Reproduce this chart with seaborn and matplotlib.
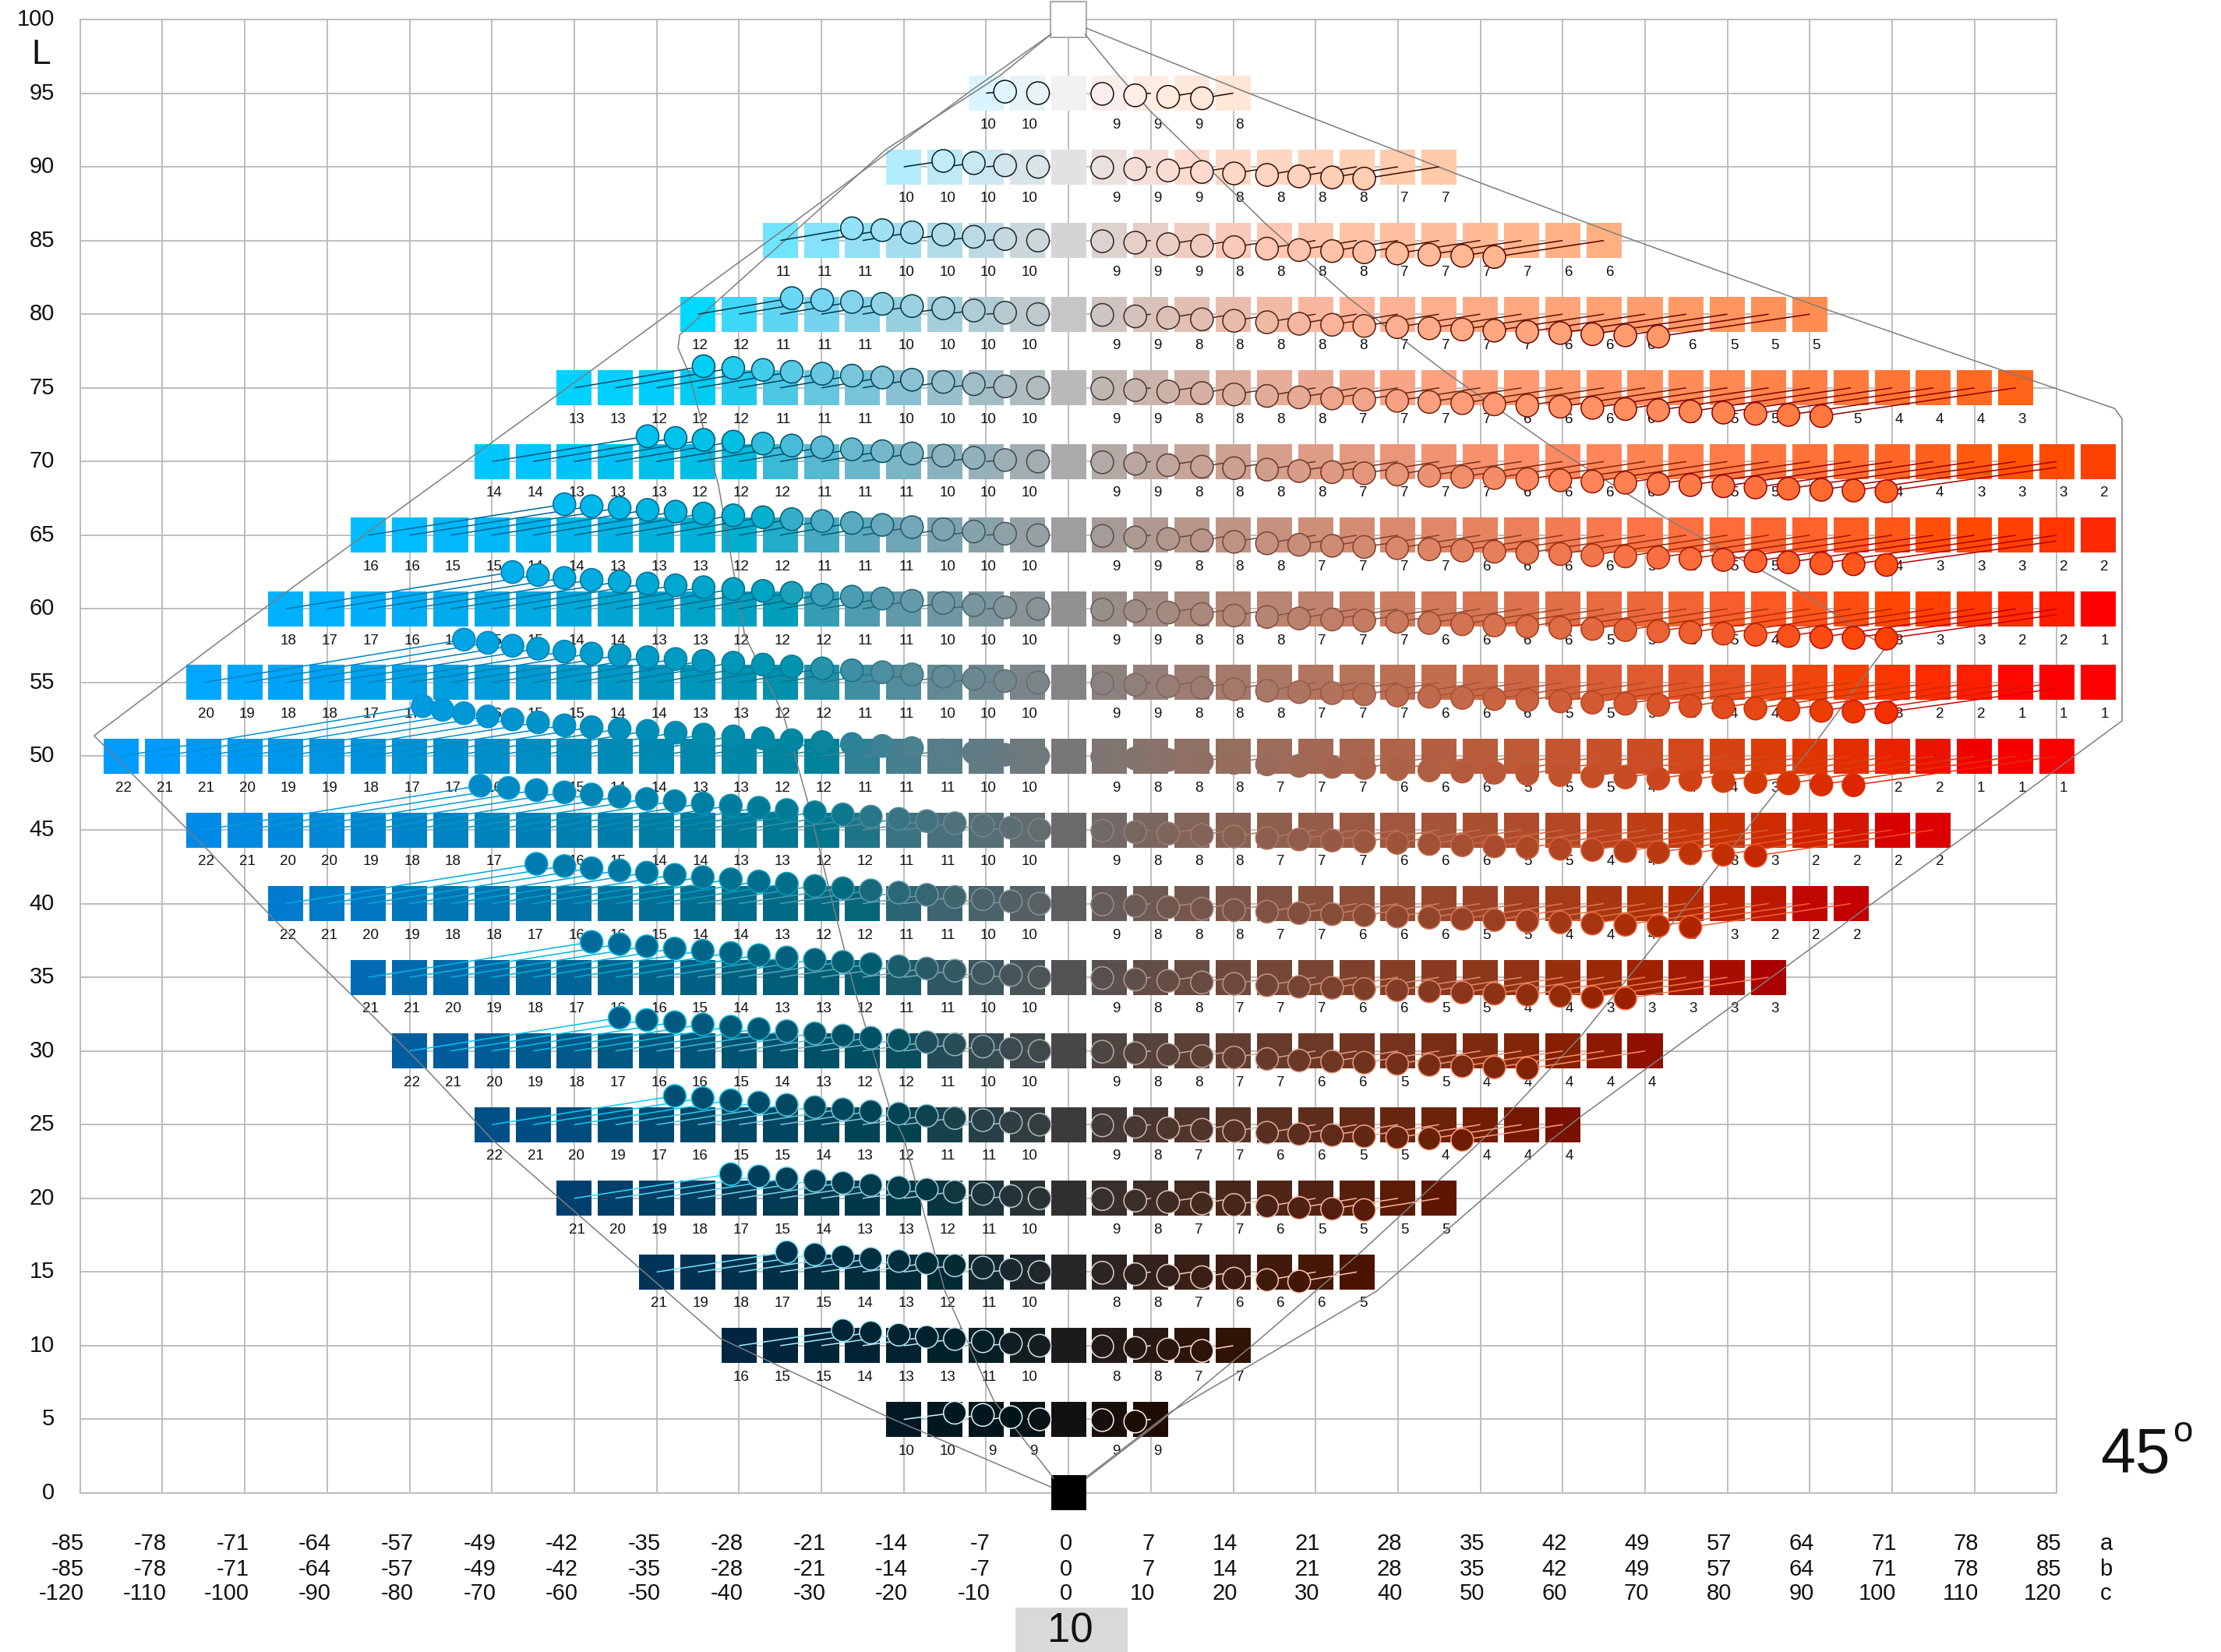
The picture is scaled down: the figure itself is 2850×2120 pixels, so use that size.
import numpy as np
import pandas as pd
import matplotlib
matplotlib.use("Agg")
import matplotlib.pyplot as plt
import seaborn as sns
from matplotlib.collections import LineCollection
from matplotlib.patches import Rectangle

# ---------------------------------------------------------------- data
hue_angle = 45.0
lightness_rows = [95, 90, 85, 80, 75, 70, 65, 60, 55, 50, 45, 40, 35, 30, 25, 20, 15, 10, 5]

# labels under the squares, left half listed from the outermost chroma inwards
left_labels = [
    [10, 10],
    [10, 10, 10, 10],
    [11, 11, 11, 10, 10, 10, 10],
    [12, 12, 11, 11, 11, 10, 10, 10, 10],
    [13, 13, 12, 12, 12, 11, 11, 11, 10, 10, 10, 10],
    [14, 14, 13, 13, 13, 12, 12, 12, 11, 11, 11, 10, 10, 10],
    [16, 16, 15, 15, 14, 14, 13, 13, 13, 12, 12, 11, 11, 11, 10, 10, 10],
    [18, 17, 17, 16, 16, 15, 15, 14, 14, 13, 13, 12, 12, 12, 11, 11, 10, 10, 10],
    [20, 19, 18, 18, 17, 17, 16, 16, 15, 15, 14, 14, 13, 13, 12, 12, 11, 11, 10, 10, 10],
    [22, 21, 21, 20, 19, 19, 18, 17, 17, 16, 16, 15, 14, 14, 13, 13, 12, 12, 11, 11, 11, 10, 10],
    [22, 21, 20, 20, 19, 18, 18, 17, 16, 16, 15, 14, 14, 13, 13, 12, 12, 11, 11, 10, 10],
    [22, 21, 20, 19, 18, 18, 17, 16, 16, 15, 14, 14, 13, 12, 12, 11, 11, 10, 10],
    [21, 21, 20, 19, 18, 17, 16, 16, 15, 14, 13, 13, 12, 11, 11, 10, 10],
    [22, 21, 20, 19, 18, 17, 16, 16, 15, 14, 13, 12, 12, 11, 10, 10],
    [22, 21, 20, 19, 17, 16, 15, 15, 14, 13, 12, 11, 11, 10],
    [21, 20, 19, 18, 17, 15, 14, 13, 13, 12, 11, 10],
    [21, 19, 18, 17, 15, 14, 13, 12, 11, 10],
    [16, 15, 15, 14, 13, 13, 11, 10],
    [10, 10, 9, 9],
]
# right half listed from chroma 5 outwards
right_labels = [
    [9, 9, 9, 8],
    [9, 9, 9, 8, 8, 8, 8, 7, 7],
    [9, 9, 9, 8, 8, 8, 8, 7, 7, 7, 7, 6, 6],
    [9, 9, 8, 8, 8, 8, 8, 7, 7, 7, 7, 6, 6, 6, 6, 5, 5, 5],
    [9, 9, 8, 8, 8, 8, 7, 7, 7, 7, 6, 6, 6, 6, 6, 5, 5, 5, 5, 4, 4, 4, 3],
    [9, 9, 8, 8, 8, 8, 7, 7, 7, 7, 6, 6, 6, 6, 6, 5, 5, 5, 5, 4, 4, 3, 3, 3, 2],
    [9, 9, 8, 8, 8, 7, 7, 7, 7, 6, 6, 6, 6, 5, 5, 5, 5, 4, 4, 4, 3, 3, 3, 2, 2],
    [9, 9, 8, 8, 8, 7, 7, 7, 6, 6, 6, 6, 5, 5, 5, 5, 4, 4, 4, 3, 3, 3, 2, 2, 1],
    [9, 9, 8, 8, 8, 7, 7, 7, 6, 6, 6, 5, 5, 5, 5, 4, 4, 4, 4, 3, 2, 2, 1, 1, 1],
    [9, 8, 8, 8, 7, 7, 7, 6, 6, 6, 5, 5, 5, 4, 4, 4, 3, 3, 3, 2, 2, 1, 1, 1],
    [9, 8, 8, 8, 7, 7, 7, 6, 6, 6, 5, 5, 4, 4, 4, 3, 3, 2, 2, 2, 2],
    [9, 8, 8, 8, 7, 7, 6, 6, 6, 5, 5, 4, 4, 4, 3, 3, 2, 2, 2],
    [9, 8, 8, 7, 7, 7, 6, 6, 5, 5, 4, 4, 3, 3, 3, 3, 3],
    [9, 8, 8, 7, 7, 6, 6, 5, 5, 4, 4, 4, 4, 4],
    [9, 8, 7, 7, 6, 6, 5, 5, 4, 4, 4, 4],
    [9, 8, 7, 7, 6, 5, 5, 5, 5],
    [8, 8, 7, 6, 6, 6, 5],
    [8, 8, 7, 7],
    [9, 9],
]

# where each sample lands (chroma, lightness shift) for nominal chroma 5, 10, 15, ...
circle_chroma_right = [4.1, 8.1, 12.1, 16.2, 20.1, 24.1, 28.0, 32.0, 35.9, 39.9, 43.8, 47.8, 51.7,
                       55.7, 59.7, 63.6, 67.6, 71.6, 75.5, 79.5, 83.4, 87.4, 91.4, 95.3, 99.3]
circle_lift_right = [-0.05, -0.15, -0.25, -0.35, -0.45, -0.55, -0.65, -0.72, -0.80, -0.88, -0.96, -1.04,
                     -1.12, -1.20, -1.28, -1.36, -1.44, -1.52, -1.60, -1.68, -1.76, -1.84, -1.92, -1.97, -2.02]
# blue half, rows of lightness 50 and above
circle_chroma_left = [-3.7, -7.7, -11.5, -15.2, -19.0, -22.6, -26.3, -29.9, -33.6, -37.1, -40.7, -44.3,
                      -47.7, -51.1, -54.5, -57.9, -61.2, -64.4, -67.5, -70.5, -73.4, -76.0, -78.4]
circle_lift_left = [0.0, 0.1, 0.25, 0.4, 0.55, 0.7, 0.83, 0.96, 1.09, 1.22, 1.35, 1.47, 1.6, 1.72,
                    1.85, 1.97, 2.1, 2.3, 2.5, 2.7, 2.92, 3.15, 3.4]
# blue half, rows of lightness 45 and below
circle_chroma_left_dark = [-3.5, -7.0, -10.4, -13.8, -17.2, -20.6, -24.0, -27.4, -30.8, -34.2, -37.6,
                           -41.0, -44.4, -47.8, -51.2, -54.5, -57.9, -61.2, -64.6, -68.0, -71.4]
circle_lift_left_dark = [0.0, 0.15, 0.3, 0.45, 0.6, 0.75, 0.9, 1.05, 1.2, 1.35, 1.5, 1.65, 1.8, 1.95,
                         2.1, 2.25, 2.4, 2.55, 2.7, 2.85, 3.0]
dark_row_limit = 45

# gamut outlines (chroma, lightness)
outer_left_c = [-2.1, -12.0, -33.2, -57.9, -82.6, -101.4, -118.3, -104.6, -96.4, -86.3, -77.7, -69.8, -42.3, -21.7, -2.1]
outer_left_L = [99.0, 95.1, 86.3, 76.2, 66.2, 58.5, 51.4, 43.7, 38.9, 33.4, 28.6, 23.9, 10.5, 5.1, 0.4]
inner_left_c = [-2.1, -8.3, -22.1, -47.2, -47.4, -46.1, -42.5, -39.3, -34.6, -31.5, -29.2, -26.0, -21.7, -20.0, -15.0, -9.1, -1.8]
inner_left_L = [99.0, 96.2, 91.2, 78.6, 77.7, 76.0, 68.4, 58.2, 52.8, 46.6, 41.3, 34.2, 26.1, 24.1, 13.7, 6.3, 1.0]
outer_right_c = [2.2, 22.3, 47.2, 67.2, 92.1, 112.8, 127.0, 127.9, 127.9, 111.9, 97.3, 87.3, 62.3, 58.0, 37.4, 12.4, 2.2]
outer_right_L = [99.4, 94.9, 89.5, 85.3, 80.3, 76.3, 73.6, 72.9, 52.4, 45.8, 39.9, 35.8, 25.6, 23.7, 13.7, 5.5, 1.1]
inner_right_c = [2.0, 6.1, 9.9, 24.0, 34.0, 45.7, 58.2, 72.4, 89.0, 99.2, 91.3, 83.8, 77.1, 62.2, 52.3, 48.8, 35.2, 22.7, 10.8, 2.2]
inner_right_L = [99.0, 96.2, 93.8, 86.1, 81.1, 76.1, 71.2, 66.2, 61.1, 57.4, 51.4, 46.1, 41.3, 31.0, 25.1, 23.2, 16.2, 10.2, 4.7, 1.0]

# axis annotations
lightness_ticks = list(range(0, 101, 5))
chroma_ticks = list(range(-120, 121, 10))
a_values = [-85, -78, -71, -64, -57, -49, -42, -35, -28, -21, -14, -7, 0, 7, 14, 21, 28, 35, 42, 49, 57, 64, 71, 78, 85]
b_values = [-85, -78, -71, -64, -57, -49, -42, -35, -28, -21, -14, -7, 0, 7, 14, 21, 28, 35, 42, 49, 57, 64, 71, 78, 85]
step_value = 10


# ---------------------------------------------------------------- colour helper
def lab_to_srgb(L, c):
    """CIELAB (L, chroma on the hue_angle plane) -> clipped sRGB tuple."""
    h = np.deg2rad(hue_angle)
    a, b = c * np.cos(h), c * np.sin(h)
    fy = (L + 16.0) / 116.0
    fx = fy + a / 500.0
    fz = fy - b / 200.0

    def finv(t):
        t3 = t ** 3
        return t3 if t3 > 0.008856 else (t - 16.0 / 116.0) / 7.787

    X, Y, Z = 0.95047 * finv(fx), finv(fy), 1.08883 * finv(fz)
    lin = [3.2406 * X - 1.5372 * Y - 0.4986 * Z,
           -0.9689 * X + 1.8758 * Y + 0.0415 * Z,
           0.0557 * X - 0.2040 * Y + 1.0570 * Z]
    out = []
    for v in lin:
        v = min(max(v, 0.0), 1.0)
        v = 12.92 * v if v <= 0.0031308 else 1.055 * v ** (1 / 2.4) - 0.055
        out.append(min(max(v, 0.0), 1.0))
    return tuple(out)


# ---------------------------------------------------------------- tables
sq_rows, lab_rows, circ_rows = [], [], []
for L, left, right in zip(lightness_rows, left_labels, right_labels):
    if L <= dark_row_limit:
        chroma_map, lift_map = circle_chroma_left_dark, circle_lift_left_dark
    else:
        chroma_map, lift_map = circle_chroma_left, circle_lift_left
    n = len(left)
    for k, v in enumerate(left):
        c = -5 * (n - k)
        sq_rows.append((c, L))
        lab_rows.append((c, L, v))
        idx = n - k - 1
        circ_rows.append((c, L, chroma_map[idx], L + lift_map[idx]))
    sq_rows.append((0, L))
    for k, v in enumerate(right):
        c = 5 * (k + 1)
        sq_rows.append((c, L))
        lab_rows.append((c, L, v))
        circ_rows.append((c, L, circle_chroma_right[k], L + circle_lift_right[k]))
sq_rows.append((0, 0))

squares = pd.DataFrame(sq_rows, columns=["chroma", "lightness"])
squares["color"] = [lab_to_srgb(L, c) for c, L in zip(squares.chroma, squares.lightness)]
labels = pd.DataFrame(lab_rows, columns=["chroma", "lightness", "value"])
circles = pd.DataFrame(circ_rows, columns=["target_c", "target_L", "chroma", "lightness"])
circles["fill"] = [lab_to_srgb(L, c) for c, L in zip(circles.chroma, circles.lightness)]
circles["edge"] = [lab_to_srgb(100 - tL, c) for c, tL in zip(circles.chroma, circles.target_L)]

# ---------------------------------------------------------------- figure
sns.set_theme(style="white")
plt.rcParams["font.family"] = ["Liberation Sans", "DejaVu Sans"]

fig = plt.figure(figsize=(28.5, 21.2), dpi=100)
ax = fig.add_axes([0.03604, 0.09623, 0.8901, 0.8920])
ax.set_xlim(-120, 120)
ax.set_ylim(0, 100)
ax.set_xticks(chroma_ticks)
ax.set_yticks(lightness_ticks)
ax.tick_params(length=0, labelbottom=False, labelleft=False)
ax.grid(True, color="#b9b9b9", linewidth=1.3, zorder=0)
ax.set_axisbelow(True)
for sp in ax.spines.values():
    sp.set_color("#b9b9b9")
    sp.set_linewidth(1.3)
    sp.set_zorder(1)

# colour squares
sns.scatterplot(data=squares, x="chroma", y="lightness", marker="s", s=1050,
                linewidth=0, legend=False, ax=ax, zorder=3, clip_on=False)
ax.collections[-1].set_facecolor(list(squares.color))
ax.collections[-1].set_edgecolor("none")

# white point on top
ax.scatter([0], [100], marker="s", s=1050, facecolor="white", edgecolor="#9a9a9a",
           linewidth=1.2, zorder=3, clip_on=False)

# numbers under the squares
for c, L, v in labels.itertuples(index=False):
    ax.text(c + 1.28, L - 2.15, str(v), ha="right", va="center", fontsize=13.5,
            color="#111111", zorder=4, clip_on=False)

# gamut outlines
for xs, ys in [(outer_left_c, outer_left_L), (inner_left_c, inner_left_L),
               (outer_right_c, outer_right_L), (inner_right_c, inner_right_L)]:
    ax.plot(xs, ys, color="#7d7d7d", linewidth=1.1, zorder=5, clip_on=False)

# links from each sample to its nominal square
segs = [[(r.chroma, r.lightness), (r.target_c, r.target_L)] for r in circles.itertuples()]
ax.add_collection(LineCollection(segs, colors=list(circles.edge), linewidths=1.1, zorder=6))

# samples
sns.scatterplot(data=circles, x="chroma", y="lightness", marker="o", s=436,
                legend=False, ax=ax, zorder=7, clip_on=False)
ax.collections[-1].set_facecolor(list(circles.fill))
ax.collections[-1].set_edgecolor(list(circles.edge))
ax.collections[-1].set_linewidth(1.1)
ax.set_xlabel("")
ax.set_ylabel("")

# lightness tick labels
for t in lightness_ticks:
    ax.text(-123.1, t, str(t), ha="right", va="center", fontsize=21, color="#111111", clip_on=False)
fig.text(53 / 2850, 1 - 71 / 2120, "L", ha="center", va="center", fontsize=32, color="#111111")

# a / b / c tick rows
row_y = [-3.44, -5.18, -6.82]
for col, c in enumerate(chroma_ticks):
    for r, v in enumerate([a_values[col], b_values[col], c]):
        ax.text(c + 0.5, row_y[r], str(v), ha="right", va="center", fontsize=21,
                color="#111111", clip_on=False)
for r, name in enumerate(["a", "b", "c"]):
    ax.text(125.2, row_y[r], name, ha="left", va="center", fontsize=21, color="#111111", clip_on=False)

# hue angle
fig.text(2695 / 2850, 1 - 1890 / 2120, "45", ha="left", va="baseline", fontsize=58, color="#111111")
fig.text(2788 / 2850, 1 - 1850 / 2120, "o", ha="left", va="baseline", fontsize=33, color="#111111")

# step box
fig.patches.append(Rectangle((1303 / 2850, 0), 144 / 2850, 57 / 2120, transform=fig.transFigure,
                             facecolor="#d9d9d9", edgecolor="none", zorder=0))
fig.text(1373 / 2850, 1 - 2094 / 2120, str(step_value), ha="center", va="center", fontsize=38, color="#111111")

fig.savefig("out.png", dpi=100, facecolor="white")
